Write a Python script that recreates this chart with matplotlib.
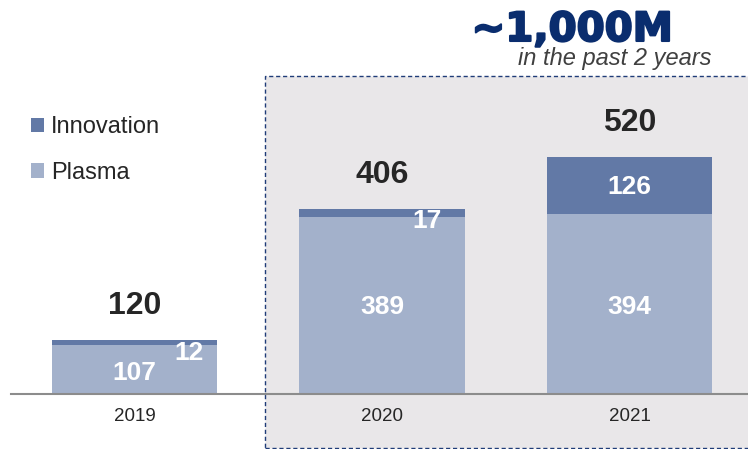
import matplotlib.pyplot as plt
import matplotlib.patheffects as pe
from matplotlib.patches import Rectangle

plt.rcParams['font.family'] = ['Liberation Sans', 'DejaVu Sans']

years = ['2019', '2020', '2021']
plasma = [107, 389, 394]
innovation = [12, 17, 126]
totals = [120, 406, 520]

plasma_color = '#A3B1CB'
innov_color = '#6279A6'

fig = plt.figure(figsize=(7.48, 4.49), dpi=100)
ax = fig.add_axes([11 / 748, 55 / 449, 737 / 748, 394 / 449])
ax.set_xlim(-0.499, 2.479)
ax.set_ylim(0, 864)

# shaded "past 2 years" box
ax.add_patch(Rectangle((0.527, -118), 2.0, 815, facecolor='#E9E7E9',
                       edgecolor='#1F3C78', linestyle=(0, (3, 2)), linewidth=1.0,
                       clip_on=False, zorder=0))

x = range(len(years))
ax.bar(x, plasma, width=0.667, color=plasma_color, label='Plasma', zorder=2)
ax.bar(x, innovation, width=0.667, bottom=plasma, color=innov_color,
       label='Innovation', zorder=2)

# value labels
lab = dict(ha='center', va='center', color='white', fontsize=19,
           fontweight='bold', zorder=3)
ax.text(0, 47, str(plasma[0]), **lab)
ax.text(0.22, 91, str(innovation[0]), **lab)
for i in (1, 2):
    ax.text(i, 191, str(plasma[i]), **lab)
ax.text(1.18, 379, str(innovation[1]), **lab)
ax.text(2, plasma[2] + innovation[2] / 2 - 3, str(innovation[2]), **lab)
for i, t in enumerate(totals):
    ax.text(i, t + 74, str(t), ha='center', va='center', color='#262626',
            fontsize=23, fontweight='bold', zorder=3)

ax.set_xticks(list(x))
ax.set_xticklabels(years, fontsize=13.5, color='#262626')
ax.tick_params(axis='x', length=0, pad=10)
ax.set_yticks([])
for s in ('top', 'left', 'right'):
    ax.spines[s].set_visible(False)
ax.spines['bottom'].set_color('#8C8C8C')
ax.spines['bottom'].set_linewidth(1.5)
ax.spines['bottom'].set_zorder(4)
ax.patch.set_alpha(0)

handles, labels = ax.get_legend_handles_labels()
ax.legend(handles[::-1], labels[::-1], loc='upper left',
          bbox_to_anchor=(10 / 748, 1 - 95 / 449), bbox_transform=fig.transFigure,
          frameon=False, fontsize=17, handlelength=0.55, handleheight=0.55,
          handletextpad=0.3, labelspacing=1.0, labelcolor='#262626')

fig.text(572 / 748, 1 - 30 / 449, '~1,000M', ha='center', va='center',
         fontsize=29, fontweight='bold', color='#0A2D6E', family='DejaVu Sans',
         path_effects=[pe.withStroke(linewidth=1.5, foreground='#0A2D6E')])
fig.text(711 / 748, 1 - 59 / 449, 'in the past 2 years', ha='right', va='center',
         fontsize=17, style='italic', color='#404040')

fig.savefig('out.png', dpi=100)
